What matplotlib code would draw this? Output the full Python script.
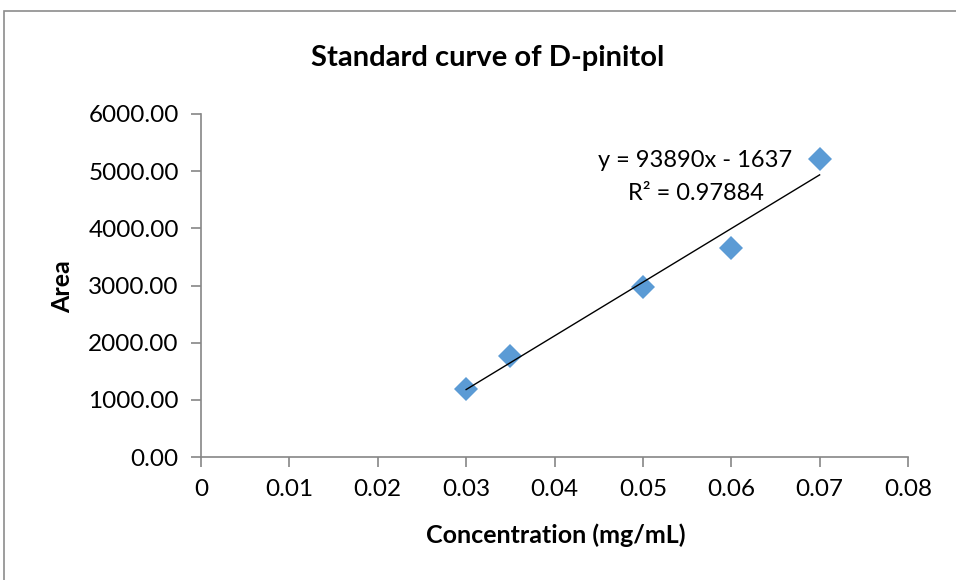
import numpy as np
import matplotlib.pyplot as plt
from matplotlib.patches import Rectangle

# standard curve data
conc = [0.03, 0.035, 0.05, 0.06, 0.07]
area = [1184, 1772, 2968, 3651, 5207]
slope = 93890
intercept = -1637
r2 = 0.97884

x_ticks = [0, 0.01, 0.02, 0.03, 0.04, 0.05, 0.06, 0.07, 0.08]
x_ticklabels = ['0', '0.01', '0.02', '0.03', '0.04', '0.05', '0.06', '0.07', '0.08']
y_ticks = [0, 1000, 2000, 3000, 4000, 5000, 6000]

plt.rcParams['font.family'] = ['Lato', 'DejaVu Sans']

fig = plt.figure(figsize=(9.56, 5.8), dpi=100)
ax = fig.add_axes([201/956, 1 - 457/580, (908 - 201)/956, (457 - 114)/580])

# chart frame
fig.patches.append(Rectangle((4/956, -0.1), 1.2, 1 - 11/580 + 0.1, transform=fig.transFigure,
                             fill=False, edgecolor='#8c8c8c', linewidth=1.2))

ax.plot(conc, area, 'D', color='#5b9bd5', markersize=12, markeredgewidth=0, zorder=3)

# linear trendline
xt = np.array([conc[0], conc[-1]])
ax.plot(xt, slope * xt + intercept, color='black', linewidth=1, zorder=4)

ax.text(0.05595, 5195, f'y = {slope}x - {-intercept}', ha='center', va='center', fontsize=17)
ax.text(0.05595, 4601, f'R² = {r2}', ha='center', va='center', fontsize=17)

ax.set_xlim(0, 0.08)
ax.set_ylim(0, 6000)
ax.set_xticks(x_ticks)
ax.set_xticklabels(x_ticklabels)
ax.set_yticks(y_ticks)
ax.set_yticklabels([f'{v:.2f}' for v in y_ticks])

for s in ['top', 'right']:
    ax.spines[s].set_visible(False)
for s in ['left', 'bottom']:
    ax.spines[s].set_color('#868686')
    ax.spines[s].set_linewidth(1.2)
ax.tick_params(colors='#868686', labelcolor='black', labelsize=17.5, length=7, width=1.2)
ax.tick_params(axis='x', pad=9)
ax.tick_params(axis='y', pad=9)

fig.text(488/956, 1 - 58/580, 'Standard curve of D-pinitol', ha='center', va='center',
         fontsize=21, fontweight='bold')
fig.text(556/956, 1 - 535/580, 'Concentration (mg/mL)', ha='center', va='center',
         fontsize=18, fontweight='bold')
fig.text(63/956, 1 - 287/580, 'Area', ha='center', va='center', rotation=90,
         fontsize=18, fontweight='bold')

fig.savefig('out.png', dpi=100)
